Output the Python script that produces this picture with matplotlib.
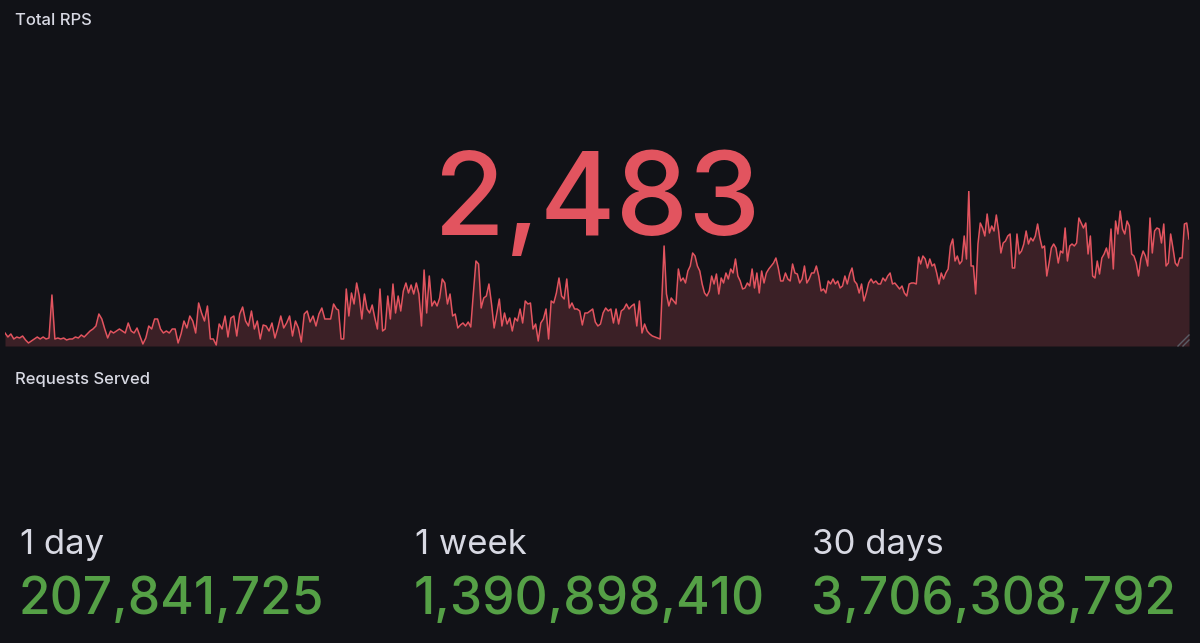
import numpy as np
import matplotlib.pyplot as plt
from matplotlib.lines import Line2D

# Sparkline readings (height of the line above baseline, in "px units" of the panel),
# four consecutive stretches of the last 30 days
seg1 = [13, 9, 12, 7, 9, 8, 10, 6, 3, 5, 7, 9, 7, 9, 7, 8, 51, 7, 8, 7, 8, 6, 7, 7, 9, 8, 11, 9, 12, 15,
        17, 20, 32, 27, 17, 8, 15, 13, 15, 17, 15, 13, 23, 15, 13, 18, 10, 2, 8, 20, 17, 27, 27, 17, 13,
        15, 13, 17, 17, 3, 12, 25, 18, 30, 25, 13, 43, 33, 25, 40, 7, 7, 1, 22, 17, 30, 9, 28, 30, 10, 32,
        39, 25, 20, 35, 17, 25, 7, 21, 20, 15, 23, 8, 18, 30, 18, 23, 30, 10, 25, 18, 4, 32, 35, 24, 30,
        20, 32, 38, 27, 27, 27, 42, 37]
seg2 = [36, 7, 7, 57, 30, 53, 42, 63, 50, 27, 52, 37, 33, 41, 28, 17, 57, 15, 17, 50, 27, 62, 33, 50, 35,
        55, 63, 53, 61, 52, 63, 52, 20, 76, 33, 70, 40, 45, 40, 48, 67, 63, 42, 52, 30, 32, 18, 21, 23, 20,
        24, 19, 53, 85, 82, 38, 48, 50, 62, 42, 18, 32, 47, 20, 33, 22, 28, 15, 28, 25, 37, 23, 45, 42, 43,
        17, 22, 5, 23, 27, 37, 7, 45, 43, 53, 68, 50, 47, 67, 38, 43, 37, 37, 35, 21, 33, 33, 35, 37, 24,
        20, 22, 33, 38, 35, 37, 23, 37, 22, 35, 37, 42, 37, 40, 42, 20, 45, 13, 22, 15, 12, 10, 9, 8, 7]
seg3 = [100, 52, 40, 48, 45, 42, 77, 65, 68, 63, 75, 80, 93, 90, 80, 75, 62, 53, 50, 55, 70, 62, 72, 52,
        68, 63, 73, 67, 77, 73, 87, 70, 65, 57, 58, 63, 60, 77, 58, 73, 53, 75, 63, 73, 77, 80, 83, 88, 78,
        65, 65, 73, 67, 65, 82, 73, 72, 63, 67, 80, 63, 67, 73, 73, 80, 70, 55, 57, 53, 65, 62, 67, 62, 65,
        58, 60, 70, 62, 72, 78, 65, 62, 53, 62, 45, 53, 63, 67, 63, 65, 62, 62, 68, 65, 70, 73, 62, 63, 60,
        57, 60, 53, 50, 62, 63, 63, 62, 89]
seg4 = [82, 90, 87, 78, 87, 80, 82, 73, 62, 73, 67, 73, 77, 100, 107, 85, 90, 82, 85, 110, 87, 155, 80, 80,
        52, 102, 123, 118, 110, 132, 113, 120, 115, 131, 115, 93, 103, 105, 110, 112, 78, 78, 112, 92, 95,
        102, 115, 102, 108, 105, 110, 122, 108, 98, 100, 70, 83, 98, 102, 98, 83, 95, 93, 118, 85, 100, 102,
        100, 103, 128, 123, 118, 123, 92, 110, 70, 68, 85, 72, 88, 92, 98, 88, 117, 77, 125, 112, 135, 117,
        112, 125, 120, 92, 90, 83, 70, 87, 95, 90, 80, 128, 93, 115, 118, 117, 103, 122, 80, 83, 112, 98,
        83, 80, 88, 88, 122, 123, 107]
# day span covered by each stretch
seg_days = [(0.0, 8.4), (8.45, 16.6), (16.7, 23.15), (23.2, 30.0)]

current_rps = "2,483"
stat_labels = ["1 day", "1 week", "30 days"]
stat_values = ["207,841,725", "1,390,898,410", "3,706,308,792"]

# last reading corresponds to the current value -> scale readings to RPS
rps_per_unit = 2483 / seg4[-1]

days = np.concatenate([np.linspace(a, b, len(s)) for (a, b), s in zip(seg_days, [seg1, seg2, seg3, seg4])])
rps = np.concatenate([seg1, seg2, seg3, seg4]) * rps_per_unit

bg = "#111217"
red = "#e2545f"
green = "#55a046"
label_col = "#d8d9e3"

W, H = 1200, 643
fig = plt.figure(figsize=(12, 6.43), dpi=100, facecolor=bg)


def fx(px):
    return px / W


def fy(py):
    return 1 - py / H


# sparkline
ax = fig.add_axes([fx(5), fy(346), fx(1189) - fx(5), fy(191) - fy(346)])
ax.set_facecolor(bg)
ax.patch.set_alpha(0)
ax.fill_between(days, rps, 0, color="#3b2026", lw=0)
ax.plot(days, rps, color=red, lw=1.1)
ax.set_xlim(0, 30)
ax.set_ylim(0, rps.max())
ax.axis("off")

# resize handle
for d in (6, 11):
    fig.add_artist(Line2D([fx(1189 - d), fx(1189)], [fy(346), fy(346 - d)], color="#5a5d66", lw=1))

font = ["Inter", "DejaVu Sans"]
fig.text(fx(15), fy(25), "Total RPS", color=label_col, fontsize=12, family=font, fontweight="medium")
fig.text(fx(15), fy(384), "Requests Served", color=label_col, fontsize=12, family=font, fontweight="medium")

fig.text(fx(597), fy(235), current_rps, color=red, fontsize=83, family=font, fontweight=500,
         ha="center", va="baseline", zorder=5)

for x0, lab, val in zip([20, 415, 812], stat_labels, stat_values):
    fig.text(fx(x0), fy(554), lab, color=label_col, fontsize=25, family=font, va="baseline")
    fig.text(fx(x0 - 1), fy(614), val, color=green, fontsize=37, family=font, fontweight=500,
             va="baseline")

fig.savefig("out.png", dpi=100, facecolor=bg)
